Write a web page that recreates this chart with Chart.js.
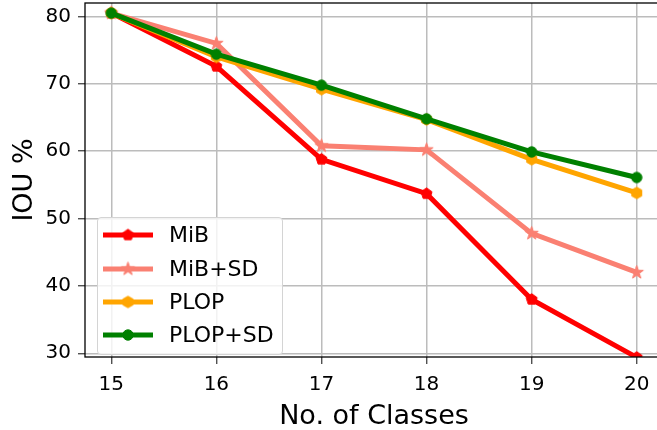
<!DOCTYPE html>
<html>
<head>
<meta charset="utf-8">
<script src="https://cdn.jsdelivr.net/npm/chart.js@4.4.0/dist/chart.umd.min.js"></script>
<style>
  html, body { margin: 0; padding: 0; background: #fff; overflow: hidden; }
  #wrap { position: relative; width: 657px; height: 430px; overflow: hidden; }
  #c { position: absolute; left: 0; top: 0; }
  #legend { position: absolute; left: 97px; top: 217px; width: 184px; height: 136px;
    border: 1px solid #d4d4d4; border-radius: 4px; background: rgba(255,255,255,0.8);
    font-family: 'DejaVu Sans', sans-serif; font-size: 22px; color: #000; }
  .row { position: absolute; left: 0; height: 26px; width: 184px; }
  .row canvas { position: absolute; left: 5px; top: 3px; }
  .row span { position: absolute; left: 71px; top: 0; line-height: 26px; white-space: nowrap; }
</style>
</head>
<body>
<div id="wrap">
  <canvas id="c" width="680" height="430"></canvas>
  <div id="legend"></div>
</div>
<script>
// ---- data ----
const classes = [15, 16, 17, 18, 19, 20];
const yTicks = [30, 40, 50, 60, 70, 80];
const seriesNames = ['MiB', 'MiB+SD', 'PLOP', 'PLOP+SD'];
const mib    = [80.5, 72.6, 58.8, 53.7, 38.0, 29.4];
const mibSD  = [80.5, 76.0, 60.8, 60.2, 47.8, 42.0];
const plop   = [80.5, 74.0, 69.2, 64.7, 58.8, 53.8];
const plopSD = [80.5, 74.4, 69.8, 64.8, 59.9, 56.1];

// ---- styles ----
const colors = ['#ff0000', '#fa8072', '#ffa500', '#008000'];
const shapes = ['pentagon', 'star', 'hexagon', 'circle'];
const FONT = "'DejaVu Sans', sans-serif";

function makeMarker(shape, color) {
  const r = shape === 'star' ? 7 : (shape === 'circle' ? 5.2 : 5.8);
  const s = Math.ceil(2 * r + 3);
  const cv = document.createElement('canvas');
  cv.width = s; cv.height = s;
  const g = cv.getContext('2d');
  const cx = s / 2, cy = s / 2;
  g.fillStyle = color; g.strokeStyle = color; g.lineWidth = 1;
  g.beginPath();
  if (shape === 'circle') {
    g.arc(cx, cy, r, 0, Math.PI * 2);
  } else {
    let pts = [];
    if (shape === 'pentagon') {
      for (let k = 0; k < 5; k++) { const a = -Math.PI/2 + k * 2*Math.PI/5; pts.push([cx + r*Math.cos(a), cy + r*Math.sin(a)]); }
    } else if (shape === 'hexagon') {
      for (let k = 0; k < 6; k++) { const a = -Math.PI/2 + k * Math.PI/3; pts.push([cx + r*Math.cos(a), cy + r*Math.sin(a)]); }
    } else {
      for (let k = 0; k < 10; k++) { const a = -Math.PI/2 + k * Math.PI/5; const rr = k % 2 ? r*0.4 : r; pts.push([cx + rr*Math.cos(a), cy + rr*Math.sin(a)]); }
    }
    g.moveTo(pts[0][0], pts[0][1]);
    for (let i = 1; i < pts.length; i++) g.lineTo(pts[i][0], pts[i][1]);
    g.closePath();
  }
  g.fill(); g.stroke();
  return cv;
}

const seriesValues = [mib, mibSD, plop, plopSD];
const markers = shapes.map((sh, i) => makeMarker(sh, colors[i]));

const datasets = seriesValues.map((vals, i) => ({
  label: seriesNames[i],
  data: classes.map((c, j) => ({ x: c, y: vals[j] })),
  borderColor: colors[i],
  backgroundColor: colors[i],
  borderWidth: 5,
  pointStyle: markers[i],
  pointRadius: 5,
  pointHoverRadius: 5,
  tension: 0,
  order: 3 - i
}));

const framePlugin = {
  id: 'frame',
  afterDatasetsDraw(chart) {
    const { ctx, chartArea: { left, top, right, bottom } } = chart;
    ctx.save();
    ctx.strokeStyle = '#000';
    ctx.lineWidth = 1.3;
    ctx.strokeRect(left, top, right - left, bottom - top);
    ctx.restore();
  }
};

new Chart(document.getElementById('c'), {
  type: 'line',
  data: { datasets },
  options: {
    responsive: false,
    animation: false,
    devicePixelRatio: 1,
    layout: { autoPadding: false, padding: { left: 0, top: 3, right: 17, bottom: 0 } },
    plugins: { legend: { display: false }, tooltip: { enabled: false } },
    scales: {
      x: {
        type: 'linear', min: 14.75, max: 20.25,
        afterFit: s => { s.height = 73; s.paddingLeft = 0; s.paddingRight = 0; },
        afterBuildTicks: s => { s.ticks = classes.map(v => ({ value: v })); },
        grid: { color: '#bcbcbc', lineWidth: 1.5, tickLength: 7, tickColor: '#333', tickWidth: 1.2 },
        border: { display: false },
        ticks: { color: '#000', font: { family: FONT, size: 20 }, padding: 9, maxRotation: 0, autoSkip: false },
        title: { display: true, text: 'No. of Classes', color: '#000', font: { family: FONT, size: 27, lineHeight: 1 }, padding: { top: 0, bottom: 0 } }
      },
      y: {
        type: 'linear', min: 29.45, max: 82.0,
        afterFit: s => { s.width = 85; s.paddingTop = 0; s.paddingBottom = 0; },
        afterBuildTicks: s => { s.ticks = yTicks.map(v => ({ value: v })); },
        grid: { color: '#bcbcbc', lineWidth: 1.5, tickLength: 7, tickColor: '#333', tickWidth: 1.2 },
        border: { display: false },
        ticks: { color: '#000', font: { family: FONT, size: 20 }, padding: 7 },
        title: { display: true, text: 'IOU %', color: '#000', font: { family: FONT, size: 27 }, padding: { top: 9, bottom: 0 } }
      }
    }
  },
  plugins: [framePlugin]
});

// ---- HTML legend ----
const legend = document.getElementById('legend');
const rowCenters = [17, 50.5, 83.5, 116.5];
seriesNames.forEach((name, i) => {
  const row = document.createElement('div');
  row.className = 'row';
  row.style.top = (rowCenters[i] - 13) + 'px';
  const hc = document.createElement('canvas');
  hc.width = 52; hc.height = 20;
  const g = hc.getContext('2d');
  g.strokeStyle = colors[i]; g.lineWidth = 5;
  g.beginPath(); g.moveTo(0, 10); g.lineTo(50, 10); g.stroke();
  const m = markers[i];
  g.drawImage(m, 25 - m.width / 2, 10 - m.height / 2);
  const sp = document.createElement('span');
  sp.textContent = name;
  row.appendChild(hc); row.appendChild(sp);
  legend.appendChild(row);
});
</script>
</body>
</html>
